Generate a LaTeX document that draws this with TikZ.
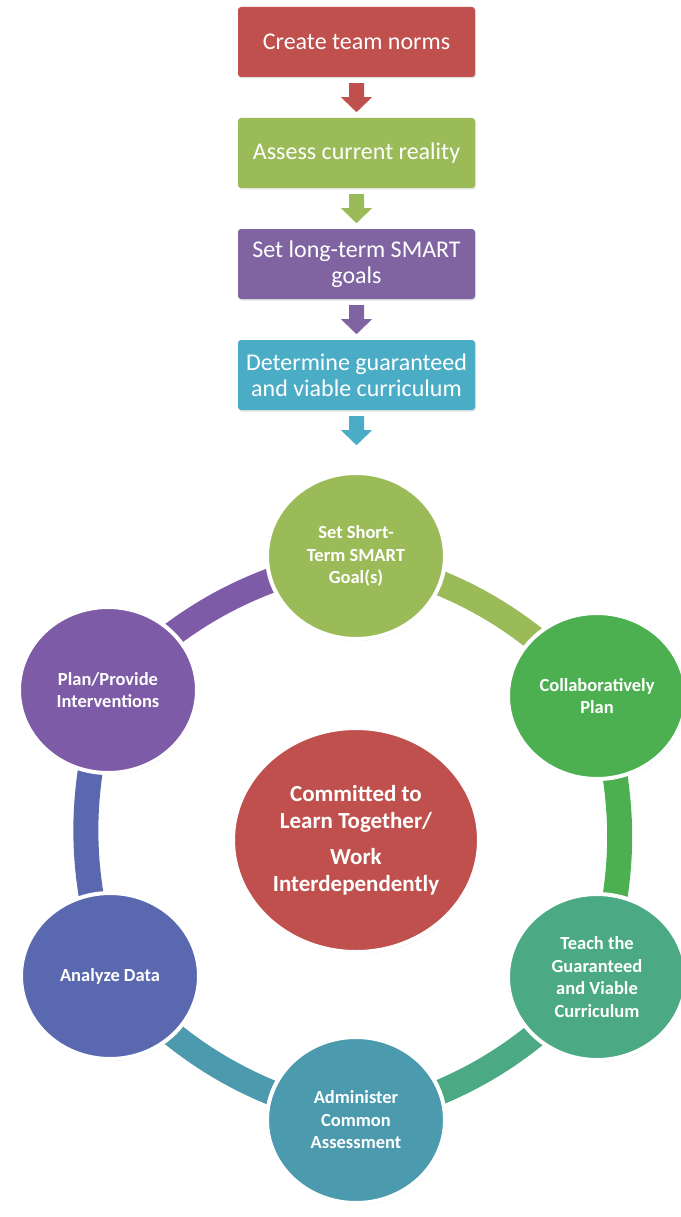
\documentclass[tikz,border=0pt]{standalone}
\usepackage{fontspec}
\setmainfont{Carlito}
\usetikzlibrary{shapes.geometric,shadows,calc,backgrounds}
\definecolor{cRed}{HTML}{C0504D}
\definecolor{cLime}{HTML}{9BBB59}
\definecolor{cPurple}{HTML}{8064A2}
\definecolor{cCyan}{HTML}{4BACC6}
\definecolor{cGreen}{HTML}{4DB050}
\definecolor{cSea}{HTML}{4BAA84}
\definecolor{cTeal}{HTML}{4C9AAD}
\definecolor{cBlue}{HTML}{5A69AF}
\definecolor{cViolet}{HTML}{7D5BA6}
\begin{document}
\begin{tikzpicture}[x=1pt,y=-1pt,
  stepbox/.style={rectangle, rounded corners=3pt, minimum width=237pt, minimum height=70pt,
    text=white, align=center, font=\fontsize{24}{26}\selectfont, inner sep=2pt,
    drop shadow={shadow xshift=1pt,shadow yshift=-1.5pt,opacity=0.22}},
  cyc/.style={ellipse, minimum width=178pt, minimum height=166pt, draw=white, line width=4pt,
    text=white, align=center, font=\fontsize{18.5}{22.5}\selectfont\bfseries, inner sep=0pt,
    drop shadow={shadow xshift=1pt,shadow yshift=-2pt,opacity=0.22}},
  hub/.style={cyc, minimum width=246pt, minimum height=224pt, font=\fontsize{23}{27}\selectfont\bfseries},
  band/.style={line width=25pt}]
\useasboundingbox (0,0) rectangle (680,1217);

% flow boxes
\node[stepbox, fill=cRed] (b1) at (356.5,42) {Create team norms};
\node[stepbox, fill=cLime] (b2) at (356.5,153) {Assess current reality};
\node[stepbox, fill=cPurple] (b3) at (356.5,264) {Set long-term SMART\\goals};
\node[stepbox, fill=cCyan] (b4) at (356.5,375) {Determine guaranteed\\and viable curriculum};

% block arrows
\foreach \b/\c in {b1/cRed,b2/cLime,b3/cPurple,b4/cCyan}{
  \fill[\c] ($(\b.south)+(-7.5,6)$) -- ++(15,0) -- ++(0,14) -- ++(8,0) -- ++(-15.5,15)
    -- ++(-15.5,-15) -- ++(8,0) -- cycle;
}

% cycle circles
\node[cyc, fill=cLime] (top) at (356,556) {Set Short-\\Term SMART\\Goal(s)};
\node[cyc, fill=cGreen] (ur) at (597,696) {Collaboratively\\Plan};
\node[cyc, fill=cSea] (lr) at (597,977) {Teach the\\Guaranteed\\and Viable\\Curriculum};
\node[cyc, fill=cTeal] (bot) at (356,1120) {Administer\\Common\\Assessment};
\node[cyc, fill=cBlue] (ll) at (110,976) {Analyze Data};
\node[cyc, fill=cViolet] (ul) at (108,690) {Plan/Provide\\Interventions};
\node[hub, fill=cRed] (hubn) at (356,840) {Committed to\\Learn Together/\\[9pt]Work\\Interdependently};

% ring bands
\begin{scope}[on background layer]
\draw[band, cLime] (top.center) to[bend left=16] (ur.center);
\draw[band, cGreen] (ur.center) to[bend left=16] (lr.center);
\draw[band, cSea] (lr.center) to[bend left=16] (bot.center);
\draw[band, cTeal] (bot.center) to[bend left=16] (ll.center);
\draw[band, cBlue] (ll.center) to[bend left=16] (ul.center);
\draw[band, cViolet] (ul.center) to[bend left=16] (top.center);
\end{scope}
\end{tikzpicture}
\end{document}
